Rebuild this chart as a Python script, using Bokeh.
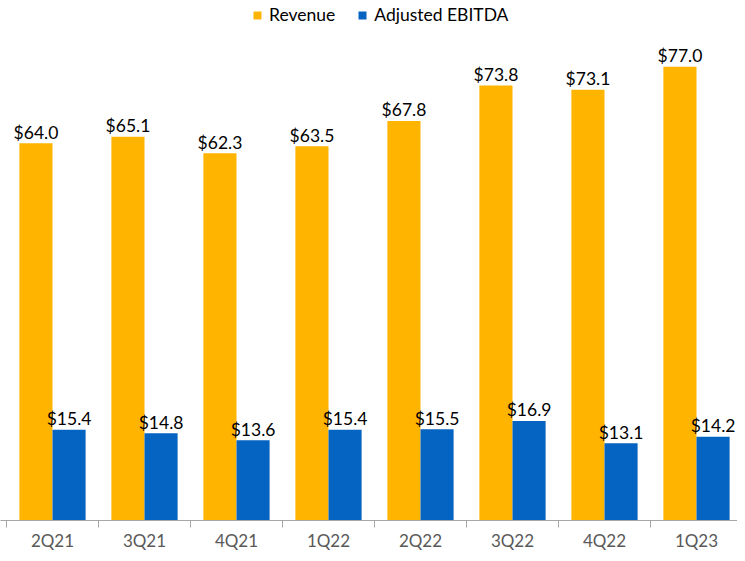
from bokeh.plotting import figure
from bokeh.models import Range1d, FixedTicker, ColumnDataSource, Legend, LegendItem
from bokeh.core.properties import value
from bokeh.embed import file_html
from bokeh.resources import INLINE

quarters = ["2Q21", "3Q21", "4Q21", "1Q22", "2Q22", "3Q22", "4Q22", "1Q23"]
revenue = [64.0, 65.1, 62.3, 63.5, 67.8, 73.8, 73.1, 77.0]
ebitda = [15.4, 14.8, 13.6, 15.4, 15.5, 16.9, 13.1, 14.2]

REV_COLOR = "#FFB400"
EB_COLOR = "#0563C1"
FONT = "Lato"

W, H = 737, 553
CAT_PX = 92.0
X0_PX = 6.0
AXIS_PX = 525
PX_PER_UNIT = 5.95

idx = list(range(len(quarters)))
x_rev = [i + 0.32 for i in idx]
x_eb = [i + 0.68 for i in idx]

src = ColumnDataSource(dict(
    x_rev=x_rev, x_eb=x_eb, rev=revenue, eb=ebitda,
    rev_lbl=[f"${v:.1f}" for v in revenue],
    eb_lbl=[f"${v:.1f}" for v in ebitda],
))

xs = -X0_PX / CAT_PX
p = figure(width=W, height=H, output_backend="svg", toolbar_location=None,
           x_range=Range1d(xs, xs + W / CAT_PX),
           y_range=Range1d(0, AXIS_PX / PX_PER_UNIT),
           min_border_left=0, min_border_right=0, min_border_top=0,
           min_border_bottom=H - AXIS_PX)
p.outline_line_color = None
p.grid.visible = False
p.yaxis.visible = False
p.background_fill_color = "white"
p.border_fill_color = "white"

r1 = p.vbar(x="x_rev", top="rev", width=0.36, source=src, color=REV_COLOR, line_color=None)
r2 = p.vbar(x="x_eb", top="eb", width=0.36, source=src, color=EB_COLOR, line_color=None)

p.text(x="x_rev", y="rev", text="rev_lbl", source=src, text_align="center",
       text_baseline="alphabetic", y_offset=-11, text_font=value(FONT),
       text_font_size="17.5px", text_color="#000000")
p.text(x="x_eb", y="eb", text="eb_lbl", source=src, text_align="center",
       text_baseline="alphabetic", y_offset=-11, text_font=value(FONT),
       text_font_size="17.5px", text_color="#000000")

ax = p.xaxis[0]
ax.ticker = FixedTicker(ticks=[i + 0.5 for i in idx],
                        minor_ticks=[float(i) for i in range(len(quarters) + 1)])
ax.major_label_overrides = {i + 0.5: q for i, q in zip(idx, quarters)}
ax.major_tick_line_color = None
ax.major_tick_out = 7
ax.major_tick_in = 0
ax.minor_tick_line_color = "#A6A6A6"
ax.minor_tick_out = 7
ax.minor_tick_in = 0
ax.axis_line_color = "#A6A6A6"
ax.axis_line_width = 1
ax.major_label_standoff = 2
ax.major_label_text_font = FONT
ax.major_label_text_font_size = "17px"
ax.major_label_text_color = "#595959"

legend = Legend(items=[LegendItem(label="Revenue", renderers=[r1]),
                       LegendItem(label="Adjusted EBITDA", renderers=[r2])],
                orientation="horizontal", location=(252, AXIS_PX - 30),
                glyph_width=10, glyph_height=10, label_height=20,
                label_text_font=FONT, label_text_font_size="17.5px",
                label_text_color="#000000", label_text_baseline="middle",
                spacing=22, padding=0, margin=0, border_line_color=None,
                background_fill_alpha=0, label_standoff=7)
p.add_layout(legend)

open("out.html", "w").write(file_html(p, INLINE))
